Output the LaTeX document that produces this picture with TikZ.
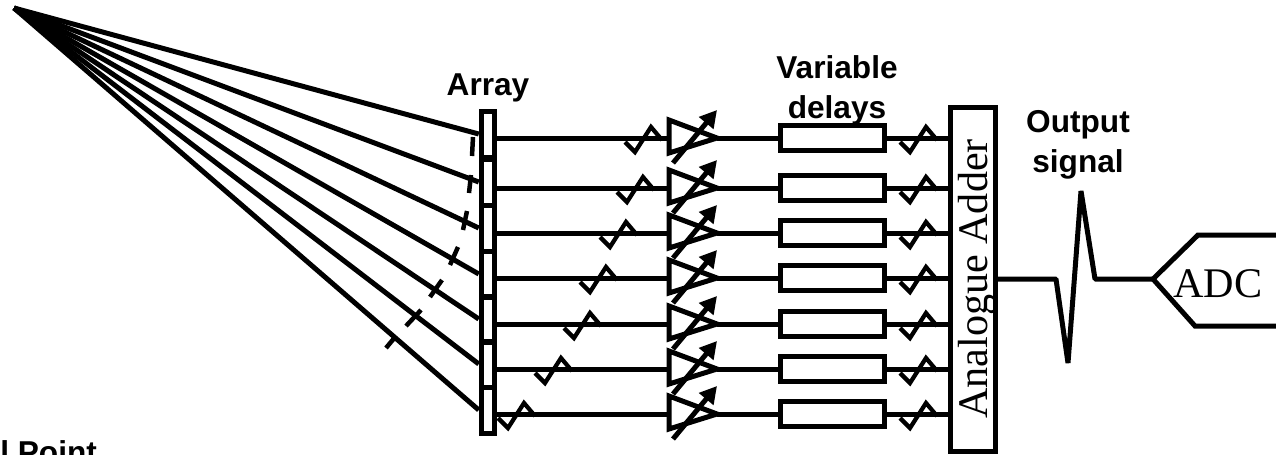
\documentclass[tikz,border=0pt]{standalone}
\usepackage{fontspec}
\setmainfont{Liberation Sans}
\newfontfamily\serifface{Liberation Serif}
\usetikzlibrary{arrows.meta}
\tikzset{
    wire/.style={line width=0.1cm, black},
    zigwire/.style={line width=0.085cm, black},
    elembox/.style={draw, line width=0.1cm, minimum width=0.27cm, minimum height=0.92cm, inner sep=0pt},
    delaybox/.style={draw, line width=0.1cm, minimum width=2.08cm, minimum height=0.5cm, inner sep=0pt},
    addbox/.style={draw, line width=0.1cm, minimum width=0.9cm, minimum height=6.9cm, inner sep=0pt},
    boldlabel/.style={font=\fontsize{18}{22.7}\selectfont\bfseries, align=center, inner sep=0pt},
    seriflabel/.style={font=\fontsize{24}{28}\selectfont\serifface, inner sep=0pt},
}
\begin{document}
\begin{tikzpicture}[x=0.02cm, y=-0.02cm]
    \useasboundingbox (0,0) rectangle (1276,454);
    \coordinate (focal) at (14,8);
    \node[addbox] (adder) at (973,279.5) {};
    \node[seriflabel, rotate=90] (addertext) at (977,279) {Analogue Adder};
    \foreach \y/\a/\z [count=\i] in {138/134/625, 188/182/617, 233/228/600, 278/274/580, 324/319/564, 369/364/535, 414/410/498} {
        \node[elembox] (elem\i) at (488,\a) {};
        \node[delaybox] (delay\i) at (832.5,\y) {};
        \coordinate (in\i) at (elem\i.east |- delay\i);
        \coordinate (amp\i) at (669,\y);
        \coordinate (tip\i) at (717,\y);
        \draw[wire] (focal) -- (elem\i.west);
        \draw[wire] (in\i) -- (amp\i);
        \draw[wire] (amp\i) ++(0,-18) -- (tip\i) -- (669,\y+15) -- cycle;
        \draw[wire] (tip\i) -- (delay\i.west);
        \draw[wire] (delay\i.east) -- (adder.west |- delay\i);
        \draw[wire, -{Triangle[length=0.34cm, width=0.36cm]}] (673,\y+25) -- (717,\y-28);
        \foreach \x in {\z,900} {
            \draw[zigwire] (\x,\y+4) -- (\x+10,\y+14) -- (\x+26,\y-11) -- (\x+37,\y+2);
        }
    }
    \foreach \ax/\ay/\bx/\by in {473/137/472/156, 471/175/469/193, 467/211/463/230, 458/247/450/265, 442/280/430/297, 421/310/406/326, 396/336/386/348} {
        \draw[line width=0.09cm] (\ax,\ay) -- (\bx,\by);
    }
    \coordinate (adcin) at (1153,279);
    \draw[wire, line join=bevel] (adder.east |- adcin) -- (1056,279) -- (1068,363) -- (1081,191) -- (1095,279) -- (adcin);
    \draw[wire] (1276,235) -- (1198,235) -- (adcin) -- (1195,326) -- (1276,326);
    \node[seriflabel, anchor=base] (adc) at (1218,297) {ADC};
    \node[boldlabel] (arraylabel) at (488,88) {Array};
    \node[boldlabel] (delaylabel) at (837,90) {Variable\\delays};
    \node[boldlabel] (outputlabel) at (1078,145) {Output\\signal};
    \node[boldlabel, anchor=base west] (pointlabel) at (0,463) {l Point};
\end{tikzpicture}
\end{document}
